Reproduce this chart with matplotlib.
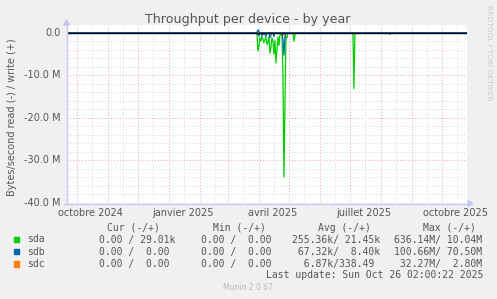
import matplotlib
matplotlib.use('Agg')
import matplotlib.pyplot as plt
import matplotlib.dates as mdates
import pandas as pd
import numpy as np
from matplotlib.patches import Rectangle, Polygon
from matplotlib.lines import Line2D

W, H = 497, 299

# ---------------- data (values in millions of bytes/second) ----------------
end_time = pd.Timestamp('2025-10-26 02:00:22')
span_days = 400

sda_read_dates = ['2025-03-31', '2025-04-01', '2025-04-02', '2025-04-03', '2025-04-04',
                  '2025-04-05', '2025-04-06', '2025-04-07', '2025-04-08', '2025-04-09',
                  '2025-04-10', '2025-04-11', '2025-04-12', '2025-04-13', '2025-04-14',
                  '2025-04-15', '2025-04-16', '2025-04-17', '2025-04-18', '2025-04-19',
                  '2025-04-20', '2025-04-21', '2025-04-22', '2025-04-23', '2025-04-24',
                  '2025-04-25', '2025-04-26', '2025-04-27', '2025-04-28', '2025-04-29',
                  '2025-05-06', '2025-05-07', '2025-07-05', '2025-08-10']
sda_read_vals = [4.3, 3.2, 1.2, 2.0, 0.8,
                 1.5, 2.4, 1.6, 0.9, 2.8,
                 2.2, 1.0, 4.8, 3.6, 1.2,
                 2.0, 5.0, 1.8, 7.1, 4.2,
                 1.0, 3.0, 0.6, 0.4, 0.5,
                 9.0, 33.9, 18.0, 0.8, 1.2,
                 2.0, 0.7, 13.1, 0.4]

sdb_read_dates = ['2025-03-31', '2025-04-01', '2025-04-04', '2025-04-06', '2025-04-08',
                  '2025-04-12', '2025-04-13', '2025-04-16', '2025-04-25', '2025-04-26',
                  '2025-04-27']
sdb_read_vals = [0.3, 0.8, 0.7, 0.5, 0.8, 1.2, 0.6, 0.9, 1.5, 5.3, 1.0]

sdb_write_dates = ['2025-03-31', '2025-04-01']
sdb_write_vals = [0.7, 0.3]

sdc_read_dates = ['2025-04-14', '2025-04-26']
sdc_read_vals = [0.4, 0.6]

series_names = ['sda', 'sdb', 'sdc']
series_colors = ['#00CC00', '#0066B3', '#FF8000']

cur_vals = ['0.00 / 29.01k', '0.00 /  0.00', '0.00 /  0.00']
min_vals = ['0.00 /  0.00', '0.00 /  0.00', '0.00 /  0.00']
avg_vals = ['255.36k/ 21.45k', ' 67.32k/  8.40k', '  6.87k/338.49']
max_vals = ['636.14M/ 10.04M', '100.66M/ 70.50M', ' 32.27M/  2.80M']
col_headers = ['Cur (-/+)', 'Min (-/+)', 'Avg (-/+)', 'Max (-/+)']

y_ticks = [0, -10, -20, -30, -40]
y_tick_labels = ['0.0', '-10.0 M', '-20.0 M', '-30.0 M', '-40.0 M']
x_label_dates = ['2024-10-15', '2025-01-15', '2025-04-15', '2025-07-15', '2025-10-15']
x_labels = ['octobre 2024', 'janvier 2025', 'avril 2025', 'juillet 2025', 'octobre 2025']

# ---------------- build daily series ----------------
start_time = end_time - pd.Timedelta(days=span_days)
days = pd.date_range(start_time.normalize(), end_time.normalize(), freq='D')


def daily(dates, vals):
    s = pd.Series(0.0, index=days)
    for d, v in zip(dates, vals):
        s[pd.Timestamp(d)] = v
    return s


sda_read = daily(sda_read_dates, sda_read_vals)
sdb_read = daily(sdb_read_dates, sdb_read_vals)
sdc_read = daily(sdc_read_dates, sdc_read_vals)
sdb_write = daily(sdb_write_dates, sdb_write_vals)

# ---------------- figure ----------------
TXT = '#555555'
fig = plt.figure(figsize=(W / 100, H / 100), dpi=100, facecolor='#F0F0F0')


def fx(x):
    return x / W


def fy(y):
    return 1 - y / H


ax_left, ax_right, ax_top, ax_bot = 67, 467, 25, 203
ax = fig.add_axes([fx(ax_left), fy(ax_bot), (ax_right - ax_left) / W, (ax_bot - ax_top) / H])
ax.set_facecolor('white')
for sp in ax.spines.values():
    sp.set_visible(False)
ax.set_xlim(start_time, end_time)
ax.set_ylim(-40, 1.8)
ax.set_xticks([])
ax.set_yticks([])

# grid
minor_c = '#D8D8D8'
major_c = '#F0A8A8'
for v in range(-38, 2, 2):
    if v == 0:
        continue
    c = major_c if v % 10 == 0 else minor_c
    ax.axhline(v, color=c, lw=0.7, ls=(0, (1, 2)), zorder=1)
months = pd.date_range('2024-10-01', '2025-10-01', freq='MS')
for m in months:
    ax.axvline(m, color=major_c, lw=0.7, ls=(0, (1, 2)), zorder=1)
    mid = m + pd.Timedelta(days=15)
    if mid < end_time:
        ax.axvline(mid, color=minor_c, lw=0.7, ls=(0, (1, 2)), zorder=1)

# data lines
ax.plot(days, -sda_read.values, color=series_colors[0], lw=0.9, zorder=3)
ax.plot(days, -sdb_read.values, color=series_colors[1], lw=0.9, zorder=3)
ax.plot(days, -sdc_read.values, color=series_colors[2], lw=0.9, zorder=3)
ax.plot(days, sdb_write.values, color=series_colors[1], lw=0.9, zorder=3)
ax.axhline(0, color='black', lw=1.0, zorder=4)

# axis lines with arrows (figure pixel coords)
axc = '#C8C8F8'
fig.add_artist(Line2D([fx(66.5), fx(66.5)], [fy(204), fy(24)], color=axc, lw=1))
fig.add_artist(Line2D([fx(64), fx(469)], [fy(203.5), fy(203.5)], color=axc, lw=1))
fig.add_artist(Polygon([[fx(63.5), fy(25)], [fx(69.5), fy(25)], [fx(66.5), fy(20)]],
                       closed=True, color=axc, transform=fig.transFigure))
fig.add_artist(Polygon([[fx(468), fy(200.5)], [fx(468), fy(206.5)], [fx(473), fy(203.5)]],
                       closed=True, color=axc, transform=fig.transFigure))

# tick labels
for v, lab in zip(y_ticks, y_tick_labels):
    ypix = ax_top + (1.8 - v) / 41.8 * (ax_bot - ax_top)
    fig.text(fx(60.5), fy(ypix), lab, ha='right', va='center', fontsize=7, color=TXT)
x0 = mdates.date2num(start_time)
x1 = mdates.date2num(end_time)
for d, lab in zip(x_label_dates, x_labels):
    xpix = ax_left + (mdates.date2num(pd.Timestamp(d)) - x0) / (x1 - x0) * (ax_right - ax_left)
    fig.text(fx(xpix), fy(212.5), lab, ha='center', va='center', fontsize=7, color=TXT)

# titles
fig.text(fx(248), fy(19), 'Throughput per device - by year', ha='center', va='center',
         fontsize=9.1, color=TXT)
fig.text(fx(12), fy(117), 'Bytes/second read (-) / write (+)', ha='center', va='center',
         rotation=90, fontsize=7, color=TXT)
fig.text(fx(489), fy(53), 'RRDTOOL / TOBI OETIKER', ha='center', va='center',
         rotation=270, fontsize=5.4, color='#CCCCCC')

# legend
mono = 'DejaVu Sans Mono'
hdr_x = [107, 213, 318, 423]
for x, h in zip(hdr_x, col_headers):
    fig.text(fx(x), fy(228), h, ha='left', va='center', fontsize=7, color=TXT, family=mono)
row_y = [239.5, 251.7, 264]
col_x = [99, 201, 292, 394]
for i, name in enumerate(series_names):
    y = row_y[i]
    fig.add_artist(Rectangle((fx(14), fy(y + 2.7)), 5.3 / W, 5.3 / H, color=series_colors[i],
                             transform=fig.transFigure))
    fig.text(fx(26.7), fy(y), name, ha='left', va='center', fontsize=7, color=TXT, family=mono)
    for x, s in zip(col_x, [cur_vals[i], min_vals[i], avg_vals[i], max_vals[i]]):
        fig.text(fx(x), fy(y), s, ha='left', va='center', fontsize=7, color=TXT, family=mono)
fig.text(fx(483), fy(275.5), 'Last update: Sun Oct 26 02:00:22 2025', ha='right', va='center',
         fontsize=7, color=TXT, family=mono)
fig.text(fx(248), fy(288), 'Munin 2.0.67', ha='center', va='center', fontsize=5.5, color='#BBBBBB')

fig.savefig('out.png', dpi=100, facecolor=fig.get_facecolor())
